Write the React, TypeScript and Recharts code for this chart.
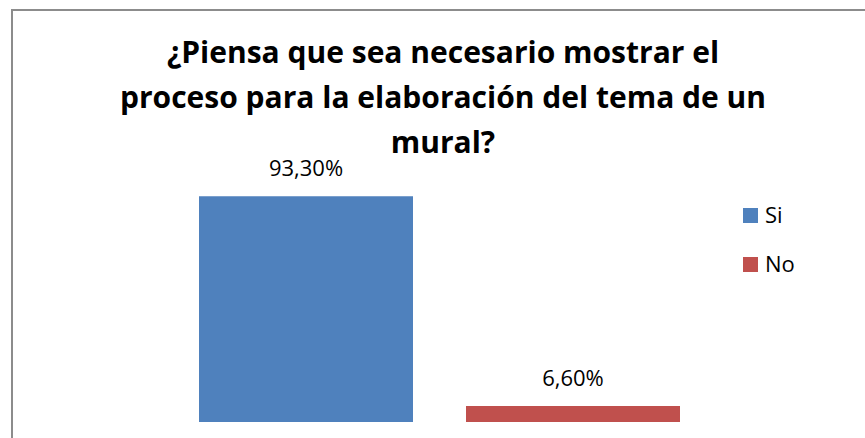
import { Bar, BarChart, LabelList, Legend, XAxis, YAxis } from "recharts";

// Encuesta: ¿mostrar el proceso del tema de un mural?
const categories = [""];
const siValues = [93.3];
const noValues = [6.6];
const seriesNames = ["Si", "No"];
const seriesColors = ["#4F81BD", "#C0504D"];
const titleLines = [
  "¿Piensa que sea necesario mostrar el",
  "proceso para la elaboración del tema de un",
  "mural?",
];

const data = categories.map((c, i) => ({ name: c, si: siValues[i], no: noValues[i] }));

const FONT = "'Open Sans', 'Noto Sans', sans-serif";

const fmt = (v: any) => `${Number(v).toFixed(2).replace(".", ",")}%`;

function LegendBox() {
  return (
    <div style={{ position: "relative", width: 100, height: 100, fontFamily: FONT, fontSize: 22, color: "#000" }}>
      {seriesNames.map((n, i) => (
        <div key={n}>
          <span
            style={{
              position: "absolute",
              left: 0,
              top: 8 + i * 49,
              width: 15,
              height: 15,
              background: seriesColors[i],
            }}
          />
          <span style={{ position: "absolute", left: 22, top: 2 + i * 49, lineHeight: "24px" }}>{n}</span>
        </div>
      ))}
    </div>
  );
}

export default function App() {
  return (
    <div
      style={{
        position: "absolute",
        left: 0,
        top: 0,
        width: 865,
        height: 438,
        overflow: "hidden",
        background: "#fff",
      }}
    >
      <div
        style={{
          position: "absolute",
          left: 11,
          top: 9,
          width: 900,
          height: 480,
          border: "2px solid #8c8c8c",
        }}
      />
      {titleLines.map((t, i) => (
        <div
          key={i}
          style={{
            position: "absolute",
            left: 43,
            width: 800,
            top: 34 + i * 45,
            textAlign: "center",
            fontFamily: FONT,
            fontWeight: 700,
            fontSize: 30,
            lineHeight: "36px",
            color: "#000",
            whiteSpace: "nowrap",
          }}
        >
          {t}
        </div>
      ))}
      <div style={{ position: "absolute", left: 0, top: 0 }}>
        <BarChart
          width={865}
          height={438}
          data={data}
          margin={{ top: 180, right: 36, bottom: 16, left: 149 }}
          barGap={53}
        >
          <XAxis dataKey="name" hide />
          <YAxis domain={[0, 100]} hide />
          <Legend
            layout="vertical"
            align="right"
            verticalAlign="top"
            wrapperStyle={{ left: 743, top: 200, width: 100 }}
            content={() => <LegendBox />}
          />
          <Bar dataKey="si" fill={seriesColors[0]} barSize={214} isAnimationActive={false}>
            <LabelList
              dataKey="si"
              position="top"
              offset={20}
              formatter={fmt}
              style={{ fontFamily: FONT, fontSize: 22, fill: "#000" }}
            />
          </Bar>
          <Bar dataKey="no" fill={seriesColors[1]} barSize={214} isAnimationActive={false}>
            <LabelList
              dataKey="no"
              position="top"
              offset={20}
              formatter={fmt}
              style={{ fontFamily: FONT, fontSize: 22, fill: "#000" }}
            />
          </Bar>
        </BarChart>
      </div>
    </div>
  );
}
